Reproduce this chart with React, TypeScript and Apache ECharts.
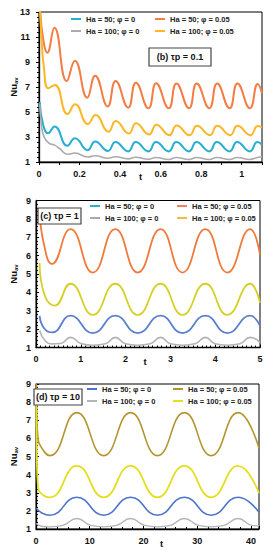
import React, { useEffect, useRef } from "react";
import * as echarts from "echarts";

const FF = "'Liberation Sans', Arial, 'DejaVu Sans', sans-serif";
const NAMES = ["Ha = 50; φ = 0", "Ha = 50; φ = 0.05", "Ha = 100; φ = 0", "Ha = 100; φ = 0.05"];
const PANEL_TITLES = ["(b) τp = 0.1", "(c) τp = 1", "(d) τp = 10"];
const X_TITLE = "t";

// Panel (b) τp = 0.1  — [t, Nu_av]
const P1_B = [[0.004,5.8],[0.02,4.0],[0.045,3.3],[0.077,3.85],[0.14,2.3],[0.177,2.9],[0.24,1.95],[0.277,2.65],[0.34,1.88],[0.377,2.6],[0.44,1.85],[0.477,2.6],[0.54,1.85],[0.577,2.6],[0.64,1.85],[0.677,2.6],[0.74,1.85],[0.777,2.6],[0.84,1.85],[0.877,2.6],[0.94,1.85],[0.977,2.6],[1.04,1.85],[1.077,2.6],[1.1,2.38]];
const P1_O = [[0.005,13.4],[0.02,10.9],[0.041,9.75],[0.076,11.75],[0.137,7.48],[0.177,9.1],[0.238,6.15],[0.277,7.9],[0.339,5.45],[0.378,7.48],[0.44,5.35],[0.478,7.35],[0.54,5.3],[0.578,7.3],[0.64,5.3],[0.678,7.28],[0.74,5.3],[0.778,7.28],[0.84,5.3],[0.879,7.28],[0.94,5.3],[0.979,7.28],[1.04,5.3],[1.079,7.25],[1.1,6.5]];
const P1_G = [[0.004,5.6],[0.012,4.0],[0.025,3.0],[0.05,2.5],[0.077,2.35],[0.1,2.1],[0.14,1.62],[0.177,1.72],[0.24,1.4],[0.277,1.5],[0.34,1.3],[0.377,1.42],[0.44,1.25],[0.477,1.38],[0.54,1.22],[0.577,1.36],[0.64,1.2],[0.677,1.36],[0.74,1.2],[0.777,1.36],[0.84,1.2],[0.877,1.36],[0.94,1.2],[0.977,1.36],[1.04,1.2],[1.077,1.36],[1.1,1.42]];
const P1_Y = [[0.004,13.5],[0.012,11.0],[0.024,8.6],[0.046,6.9],[0.078,7.16],[0.141,4.84],[0.178,5.62],[0.241,4.04],[0.279,4.76],[0.343,3.42],[0.379,4.28],[0.443,3.28],[0.479,4.1],[0.543,3.2],[0.579,3.98],[0.643,3.15],[0.679,3.92],[0.743,3.15],[0.779,3.9],[0.843,3.15],[0.879,3.9],[0.943,3.15],[0.979,3.9],[1.043,3.15],[1.079,3.88],[1.1,3.75]];

// Panel (c) τp = 1
const P2_B = [[0.08,2.72],[0.18,2.05],[0.36,1.82],[0.77,2.73],[1.27,1.78],[1.77,2.73],[2.27,1.78],[2.78,2.73],[3.27,1.78],[3.78,2.73],[4.27,1.78],[4.78,2.73],[5.0,2.18]];
const P2_O = [[0.08,8.55],[0.17,6.7],[0.36,5.55],[0.77,7.44],[1.27,5.08],[1.77,7.44],[2.27,5.08],[2.78,7.44],[3.27,5.08],[3.78,7.44],[4.27,5.08],[4.78,7.44],[5.0,6.05]];
const P2_G = [[0.08,1.93],[0.2,1.38],[0.35,1.2],[0.55,1.22],[0.77,1.55],[1.0,1.22],[1.27,1.12],[1.55,1.2],[1.77,1.55],[2.0,1.2],[2.27,1.12],[2.55,1.2],[2.78,1.55],[3.0,1.2],[3.27,1.12],[3.55,1.2],[3.78,1.55],[4.0,1.2],[4.27,1.12],[4.55,1.2],[4.78,1.55],[5.0,1.28]];
const P2_Y = [[0.08,5.6],[0.2,3.8],[0.42,3.28],[0.77,4.47],[1.27,2.78],[1.77,4.47],[2.27,2.78],[2.78,4.47],[3.27,2.78],[3.78,4.47],[4.27,2.78],[4.78,4.47],[5.0,3.42]];

// Panel (d) τp = 10
const P3_B = [[0.05,2.15],[1.0,1.9],[2.6,1.76],[7.6,2.75],[12.6,1.76],[17.6,2.75],[22.6,1.76],[27.6,2.75],[32.6,1.76],[37.6,2.75],[41.5,1.92]];
const P3_O = [[0.05,9.3],[0.15,7.2],[0.35,6.1],[1.0,5.5],[2.6,5.05],[7.6,7.42],[12.6,5.05],[17.6,7.42],[22.6,5.05],[27.6,7.42],[32.6,5.05],[37.6,7.42],[41.5,5.45]];
const P3_G = [[0.05,1.3],[1.0,1.15],[2.6,1.12],[5.0,1.2],[7.6,1.58],[10.2,1.2],[12.6,1.12],[15.0,1.2],[17.6,1.58],[20.2,1.2],[22.6,1.12],[25.0,1.2],[27.6,1.58],[30.2,1.2],[32.6,1.12],[35.0,1.2],[37.6,1.58],[40.2,1.2],[41.5,1.17]];
const P3_Y = [[0.05,8.5],[0.15,5.0],[0.35,3.4],[1.0,2.95],[2.6,2.75],[7.6,4.48],[12.6,2.75],[17.6,4.48],[22.6,2.75],[27.6,4.48],[32.6,2.75],[37.6,4.48],[41.5,2.97]];

const P1_COLORS = ["#27aed0", "#f47c45", "#ababab", "#fbb726"];
const P2_COLORS = ["#5b7fcf", "#f07a3a", "#b4b4b4", "#d6cf25"];
const P2_LEGEND_COLORS = ["#25b5c5", "#f5805a", "#aaaaaa", "#f8b840"];
const P3_COLORS = ["#4e74c9", "#b39530", "#b5b5b5", "#e3df1f"];

const TXT = "#111";

function makeX(gi: number, min: number, max: number, interval: number, fmt: (v: number) => string, inside: boolean, minor: number, pad: number[]) {
  return {
    type: "value", gridIndex: gi, min, max, interval,
    axisLine: { show: true, onZero: false, lineStyle: { color: "#000", width: 1.3 } },
    axisTick: { show: true, inside, length: 3, lineStyle: { color: "#000", width: 1 } },
    minorTick: { show: minor > 0, splitNumber: minor || 5, length: 2, lineStyle: { color: "#000", width: 1 } },
    splitLine: { show: false },
    axisLabel: { fontFamily: FF, fontSize: 9, fontWeight: "bold", color: TXT, margin: 7, formatter: fmt },
    name: X_TITLE, nameLocation: "middle", nameGap: 9, nameMoveOverlap: false,
    nameTextStyle: { fontFamily: FF, fontSize: 9.5, fontWeight: "bold", color: TXT, padding: pad },
  };
}

function makeY(gi: number, min: number, max: number, interval: number, inside: boolean, minor: number, margin: number, gap: number) {
  return {
    type: "value", gridIndex: gi, min, max, interval,
    axisLine: { show: true, onZero: false, lineStyle: { color: "#000", width: 1.3 } },
    axisTick: { show: true, inside, length: 3, lineStyle: { color: "#000", width: 1 } },
    minorTick: { show: true, splitNumber: minor, length: 2, lineStyle: { color: "#000", width: 1 } },
    splitLine: { show: false },
    axisLabel: { fontFamily: FF, fontSize: 9, fontWeight: "bold", color: TXT, margin },
    name: "{a|Nu}{b|av}", nameLocation: "middle", nameGap: gap, nameRotate: 90, nameMoveOverlap: false,
    nameTextStyle: {
      rich: {
        a: { fontFamily: FF, fontSize: 9.5, fontWeight: "bold", color: TXT, lineHeight: 12, verticalAlign: "middle" },
        b: { fontFamily: FF, fontSize: 6, fontWeight: "bold", color: TXT, lineHeight: 12, verticalAlign: "bottom" },
      },
    },
  };
}

function makeLegend(left: number, top: number, idx: number[], colors: string[], gap: number) {
  return {
    left, top, orient: "vertical", itemGap: gap, itemWidth: 10, itemHeight: 2, icon: "rect",
    padding: 0, selectedMode: false, z: 20,
    textStyle: { fontFamily: FF, fontSize: 7.5, fontWeight: "bold", color: "#222" },
    data: idx.map((i) => ({ name: NAMES[i], itemStyle: { color: colors[i] }, lineStyle: { color: colors[i] } })),
  };
}

function makeSeries(data: number[][][], colors: string[], gi: number, widths: number[]) {
  return data.map((d, i) => ({
    type: "line", name: NAMES[i], xAxisIndex: gi, yAxisIndex: gi, data: d,
    smooth: 0.5, showSymbol: false, symbol: "none", clip: true,
    color: colors[i], itemStyle: { color: colors[i] },
    lineStyle: { color: colors[i], width: widths[i] },
  }));
}

function box(x: number, y: number, w: number, h: number, text: string) {
  return {
    type: "group", z: 50, children: [
      { type: "rect", z: 50, shape: { x, y, width: w, height: h }, style: { fill: "#fff", stroke: "#444", lineWidth: 1.2 } },
      { type: "text", z: 51, x: x + w / 2, y: y + h / 2, style: { text, fill: TXT, font: `bold 9px ${FF}`, align: "center", verticalAlign: "middle" } },
    ],
  };
}

export default function App() {
  const ref = useRef<HTMLDivElement>(null);
  useEffect(() => {
    if (!ref.current) return;
    const chart = echarts.init(ref.current, undefined, { renderer: "svg" });
    const f1 = (v: number) => { const k = Math.round(v * 10); return k % 2 === 0 && k <= 10 ? String(k / 10) : ""; };
    const f2 = (v: number) => (Math.abs(v - Math.round(v)) < 1e-6 ? String(Math.round(v)) : "");
    const f3 = (v: number) => (Math.round(v) % 10 === 0 && Math.abs(v - Math.round(v)) < 1e-6 ? String(Math.round(v)) : "");
    chart.setOption({
      animation: false,
      backgroundColor: "#fff",
      grid: [
        { left: 32, top: 12, width: 230, height: 150, show: true, borderColor: "#000", borderWidth: 1, containLabel: false },
        { left: 30.5, top: 200.5, width: 229.5, height: 147, show: true, borderColor: "#000", borderWidth: 1, containLabel: false },
        { left: 31, top: 384, width: 228, height: 145, show: true, borderColor: "#000", borderWidth: 1, containLabel: false },
      ],
      xAxis: [
        makeX(0, 0, 1.1, 0.1, f1, false, 0, [0, 20, 0, 0]),
        makeX(1, 0, 5, 1, f2, true, 10, [0, 6, 0, 0]),
        makeX(2, 0, 41.5, 10, f3, true, 5, [0, 0, 0, 28]),
      ],
      yAxis: [
        makeY(0, 1, 13, 2, false, 5, 9, 20),
        makeY(1, 1, 9, 1, true, 5, 5, 17),
        makeY(2, 1, 9, 1, true, 5, 5, 17),
      ],
      legend: [
        makeLegend(71, 15, [0, 2], P1_COLORS, 4),
        makeLegend(155, 15, [1, 3], P1_COLORS, 4),
        makeLegend(90, 202, [0, 2], P2_LEGEND_COLORS, 4),
        makeLegend(177, 202, [1, 3], P2_LEGEND_COLORS, 4),
        makeLegend(87, 385, [0, 2], P3_COLORS, 4),
        makeLegend(173, 385, [1, 3], P3_COLORS, 4),
      ],
      graphic: [
        box(149, 48, 62, 18, PANEL_TITLES[0]),
        box(38, 208, 43, 16, PANEL_TITLES[1]),
        box(34, 389, 48, 16, PANEL_TITLES[2]),
      ],
      series: [
        ...makeSeries([P1_B, P1_O, P1_G, P1_Y], P1_COLORS, 0, [2, 2, 1.6, 2]),
        ...makeSeries([P2_B, P2_O, P2_G, P2_Y], P2_COLORS, 1, [1.8, 1.8, 1.6, 1.8]),
        ...makeSeries([P3_B, P3_O, P3_G, P3_Y], P3_COLORS, 2, [1.6, 1.6, 1.4, 1.8]),
      ],
    });
    return () => chart.dispose();
  }, []);
  return <div ref={ref} style={{ position: "absolute", left: 0, top: 0, width: 266, height: 550 }} />;
}
